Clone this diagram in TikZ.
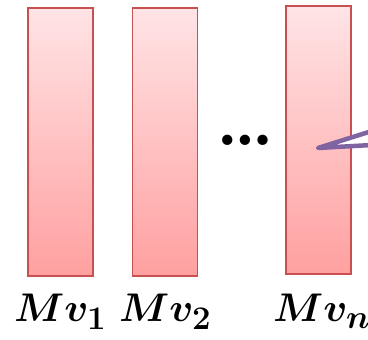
\RequirePackage{fix-cm}
\documentclass[tikz,border=0pt]{standalone}
\usepackage{amsmath,bm}
\DeclareMathSizes{40}{40}{33}{26}
\definecolor{barline}{RGB}{200,80,80}
\definecolor{bartop}{RGB}{255,228,230}
\definecolor{barbot}{RGB}{255,160,160}
\definecolor{callout}{RGB}{128,100,162}
\tikzset{
    vecbar/.style={draw=barline, line width=1.5pt, top color=bartop, bottom color=barbot,
        minimum width=65pt, minimum height=268pt, inner sep=0pt},
    veclabel/.style={anchor=base west, inner sep=0pt, font=\fontsize{40}{44}\selectfont}
}
\begin{document}
\begin{tikzpicture}[x=1pt,y=-1pt]
    \useasboundingbox (0,0) rectangle (368,340);
    \node[vecbar] (bar1) at (60.5,142) {};
    \node[vecbar] (bar2) at (165,142) {};
    \node[vecbar] (barn) at (318.5,140) {};
    \node[anchor=base, inner sep=0pt, font=\fontsize{72}{72}\selectfont\bfseries] (dots) at (245,146) {\ldots};
    \node[veclabel] (lab1) at (14,322) {$\bm{Mv_1}$};
    \node[veclabel] (lab2) at (119,322) {$\bm{Mv_2}$};
    \node[veclabel] (labn) at (273,322) {$\bm{Mv_n}$};
    \coordinate (tip) at (318,148);
    \coordinate (up) at (372,131);
    \coordinate (lo) at (372,145);
    \draw[callout, line width=4.5pt, line cap=round, line join=round, fill=white] (up) -- (tip) -- (lo);
\end{tikzpicture}
\end{document}
